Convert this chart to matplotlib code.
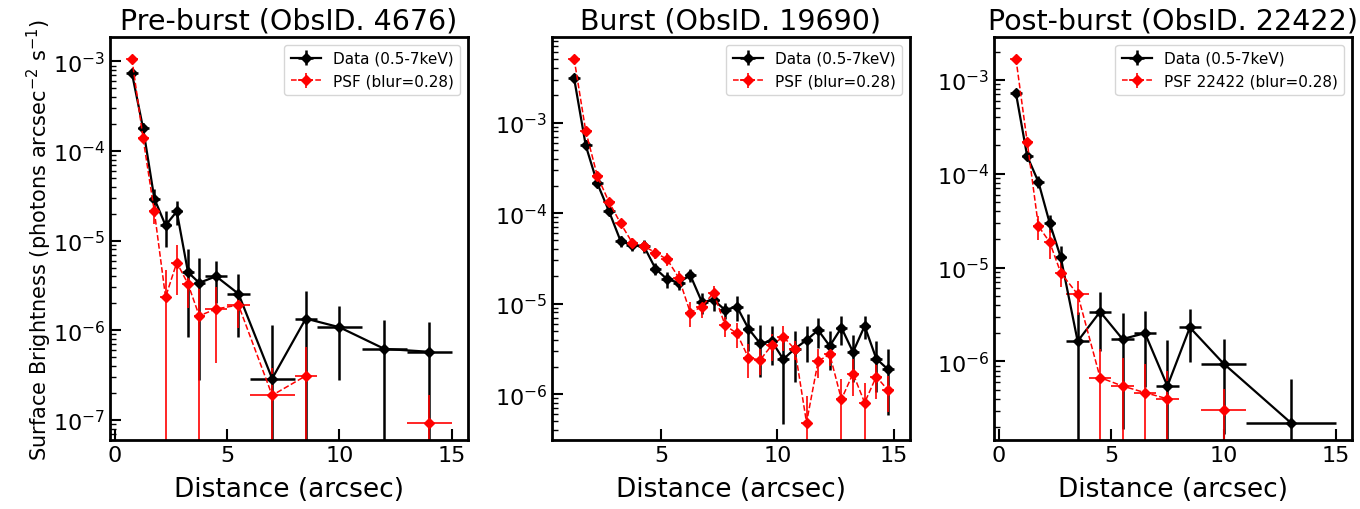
import numpy as np
import matplotlib
matplotlib.use("Agg")
import matplotlib.pyplot as plt

nan = np.nan

# Pre-burst (ObsID 4676)
pre_x = [0.75, 1.25, 1.75, 2.25, 2.75, 3.25, 3.75, 4.5, 5.5, 7.0, 8.5, 10.0, 12.0, 14.0]
pre_xerr = [0.25, 0.25, 0.25, 0.25, 0.25, 0.25, 0.25, 0.5, 0.5, 1.0, 0.5, 1.0, 1.0, 1.0]
pre_data = [7.4e-4, 1.79e-4, 2.94e-5, 1.48e-5, 2.12e-5, 4.44e-6, 3.38e-6, 4.0e-6, 2.55e-6, 2.89e-7, 1.35e-6, 1.08e-6, 6.2e-7, 5.75e-7]
pre_data_err = [5e-5, 2.5e-5, 8e-6, 6.4e-6, 6.3e-6, 3.6e-6, 3.1e-6, 2.0e-6, 1.7e-6, 8.6e-7, 1.4e-6, 8.0e-7, 6.9e-7, 6.5e-7]
pre_psf = [1.07e-3, 1.38e-4, 2.12e-5, 2.34e-6, 5.7e-6, 3.29e-6, 1.45e-6, 1.73e-6, 1.91e-6, 1.88e-7, 3.1e-7, nan, nan, 9.3e-8]
pre_psf_err = [5e-5, 1.2e-5, 6e-6, 2.4e-6, 3.2e-6, 1.5e-6, 1.95e-6, 1.3e-6, 0.85e-6, 1.9e-7, 3.4e-7, nan, nan, 9.5e-8]

# Burst (ObsID 19690)
burst_x = [1.25 + 0.5 * i for i in range(28)]
burst_xerr = [0.25] * 28
burst_data = [3.09e-3, 5.6e-4, 2.13e-4, 1.05e-4, 4.92e-5, 4.41e-5, 4.33e-5, 2.44e-5, 1.86e-5, 1.71e-5,
              2.06e-5, 1.04e-5, 1.1e-5, 8.5e-6, 9.3e-6, 5.3e-6, 3.64e-6, 3.86e-6, 2.43e-6, 3.18e-6,
              3.96e-6, 5.1e-6, 3.4e-6, 5.43e-6, 2.92e-6, 5.66e-6, 2.47e-6, 1.88e-6]
burst_data_frac = [0.03, 0.05, 0.05, 0.08, 0.15, 0.14, 0.16, 0.16, 0.2, 0.18,
                   0.16, 0.27, 0.25, 0.2, 0.31, 0.44, 0.58, 0.46, 0.81, 0.57,
                   0.43, 0.37, 0.46, 0.35, 0.53, 0.29, 0.57, 0.69]
burst_psf = [5.09e-3, 8.07e-4, 2.57e-4, 1.33e-4, 7.71e-5, 4.72e-5, 4.33e-5, 3.66e-5, 3.09e-5, 1.94e-5,
             7.94e-6, 9.27e-6, 1.32e-5, 5.75e-6, 4.7e-6, 2.53e-6, 2.38e-6, 3.46e-6, 4.31e-6, 3.13e-6,
             4.84e-7, 2.32e-6, 2.75e-6, 8.75e-7, 1.69e-6, 8.05e-7, 1.56e-6, 1.11e-6]
burst_psf_frac = [0.03, 0.04, 0.05, 0.06, 0.08, 0.12, 0.14, 0.14, 0.16, 0.18,
                  0.31, 0.26, 0.2, 0.25, 0.31, 0.4, 0.31, 0.32, 0.31, 0.24,
                  0.97, 0.35, 0.25, 0.66, 0.43, 0.66, 0.43, 0.43]

# Post-burst (ObsID 22422)
post_x = [0.75, 1.25, 1.75, 2.25, 2.75, 3.5, 4.5, 5.5, 6.5, 7.5, 8.5, 10.0, 13.0]
post_xerr = [0.25, 0.25, 0.25, 0.25, 0.25, 0.5, 0.5, 0.5, 0.5, 0.5, 0.5, 1.0, 2.0]
post_data = [7.2e-4, 1.54e-4, 8.18e-5, 3.0e-5, 1.28e-5, 1.64e-6, 3.38e-6, 1.73e-6, 2.0e-6, 5.47e-7, 2.3e-6, 9.5e-7, 2.22e-7]
post_data_err = [4e-5, 1.5e-5, 1.2e-5, 6e-6, 4.2e-6, 1.7e-6, 2.08e-6, 1.54e-6, 1.47e-6, 1.14e-6, 1.31e-6, 7.8e-7, 4.3e-7]
post_psf = [1.68e-3, 2.19e-4, 2.77e-5, 1.87e-5, 8.77e-6, 5.19e-6, 6.73e-7, 5.47e-7, 4.65e-7, 4.0e-7, nan, 3.03e-7, nan]
post_psf_err = [5e-5, 2e-5, 8e-6, 6.5e-6, 2.6e-6, 2.07e-6, 6.8e-7, 5.5e-7, 4.7e-7, 3.9e-7, nan, 2.0e-7, nan]

titles = ["Pre-burst (ObsID. 4676)", "Burst (ObsID. 19690)", "Post-burst (ObsID. 22422)"]
psf_labels = ["PSF (blur=0.28)", "PSF (blur=0.28)", "PSF 22422 (blur=0.28)"]
ylims = [(5.94e-8, 1.86e-3), (3.1e-7, 8.8e-3), (1.45e-7, 2.84e-3)]

panels = [
    (pre_x, pre_xerr, pre_data, pre_data_err, pre_psf, pre_psf_err),
    (burst_x, burst_xerr, burst_data, np.array(burst_data) * np.array(burst_data_frac),
     burst_psf, np.array(burst_psf) * np.array(burst_psf_frac)),
    (post_x, post_xerr, post_data, post_data_err, post_psf, post_psf_err),
]

fig, axes = plt.subplots(1, 3, figsize=(13.6, 5.1), dpi=100)
fig.subplots_adjust(left=0.0809, right=0.9941, bottom=0.135, top=0.925, wspace=0.235)

for i, ax in enumerate(axes):
    x, xerr, d, derr, p, perr = panels[i]
    ax.errorbar(x, d, xerr=xerr, yerr=derr, fmt="D-", color="k", ms=5, lw=1.6,
                elinewidth=1.8, label="Data (0.5-7keV)")
    ax.errorbar(x, p, xerr=xerr, yerr=perr, fmt="D--", color="red", ms=5, lw=1.1,
                elinewidth=1.2, label=psf_labels[i])
    ax.set_yscale("log")
    ax.set_ylim(*ylims[i])
    ax.set_title(titles[i], fontsize=20.5)
    ax.set_xlabel("Distance (arcsec)", fontsize=19, labelpad=8)
    ax.tick_params(which="major", direction="in", length=8, width=1.5, labelsize=16)
    ax.tick_params(which="minor", direction="in", length=4, width=1.0)
    for s in ax.spines.values():
        s.set_linewidth(2)
    ax.legend(loc="upper right", fontsize=11)

axes[0].set_ylabel("Surface Brightness (photons arcsec$^{-2}$ s$^{-1}$)", fontsize=15, labelpad=-1)

fig.savefig("out.png", dpi=100)
